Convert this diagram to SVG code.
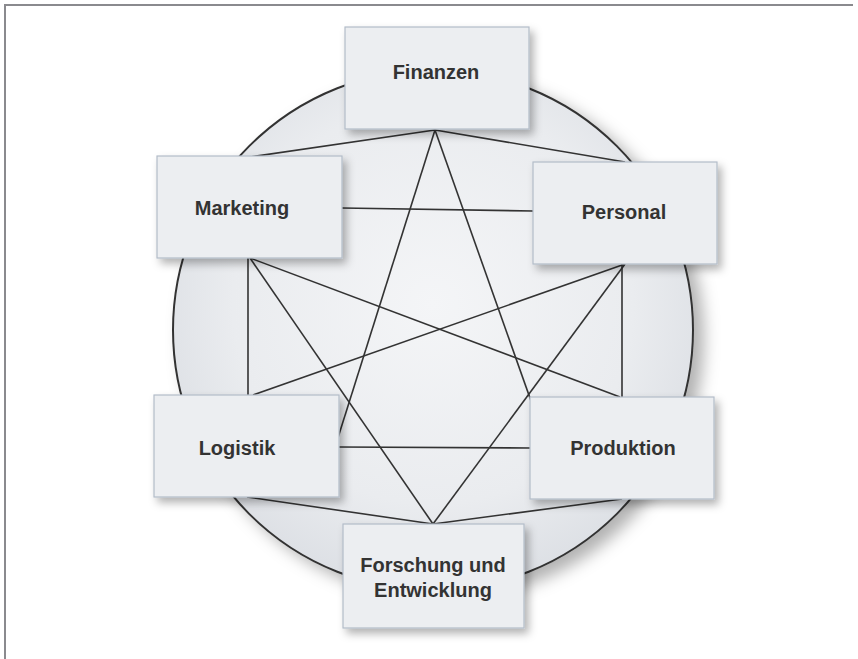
<svg xmlns="http://www.w3.org/2000/svg" width="858" height="659" viewBox="0 0 858 659">
  <defs>
    <radialGradient id="cg" cx="50%" cy="45%" r="55%">
      <stop offset="0" stop-color="#f4f5f7"/>
      <stop offset="0.7" stop-color="#eaecef"/>
      <stop offset="1" stop-color="#dde0e5"/>
    </radialGradient>
    <filter id="sh" x="-20%" y="-20%" width="150%" height="150%">
      <feDropShadow dx="4" dy="5" stdDeviation="4" flood-color="#000" flood-opacity="0.3"/>
    </filter>
    <filter id="csh" x="-20%" y="-20%" width="150%" height="150%">
      <feDropShadow dx="10" dy="8" stdDeviation="8" flood-color="#000" flood-opacity="0.3"/>
    </filter>
  </defs>
  <style>
    .box { fill: #eceef1; stroke: #b3bcc9; stroke-width: 1.2; filter: url(#sh); }
    .lbl { font-family: "Liberation Sans", Arial, sans-serif; font-weight: bold; font-size: 20px; fill: #333333; text-anchor: middle; }
    .con line { stroke: #333333; stroke-width: 1.6; }
  </style>
  <rect width="858" height="659" fill="#ffffff"/>
  <path d="M5,659 V5 H853" fill="none" stroke="#8a8a8e" stroke-width="2"/>

  <circle cx="433" cy="330" r="260" fill="url(#cg)" stroke="#333333" stroke-width="2" filter="url(#csh)"/>

  <g id="connectors" class="con">
    <line x1="435" y1="130" x2="250" y2="157"/>
    <line x1="435" y1="130" x2="625" y2="162"/>
    <line x1="342" y1="208" x2="533" y2="211"/>
    <line x1="248" y1="258" x2="248" y2="395"/>
    <line x1="622" y1="264" x2="622" y2="397"/>
    <line x1="339" y1="447" x2="530" y2="448"/>
    <line x1="247" y1="497" x2="433" y2="524"/>
    <line x1="622" y1="499" x2="433" y2="524"/>
    <line x1="435" y1="130" x2="330" y2="463"/>
    <line x1="435" y1="130" x2="553" y2="463"/>
    <line x1="250" y1="258" x2="620" y2="397"/>
    <line x1="625" y1="264" x2="253" y2="395"/>
    <line x1="250" y1="258" x2="433" y2="524"/>
    <line x1="625" y1="264" x2="433" y2="524"/>
  </g>

  <g id="finanzen">
    <rect class="box" x="345" y="27" width="184" height="102"/>
    <text class="lbl" x="436" y="79">Finanzen</text>
  </g>
  <g id="marketing">
    <rect class="box" x="157" y="156" width="185" height="102"/>
    <text class="lbl" x="242" y="215">Marketing</text>
  </g>
  <g id="personal">
    <rect class="box" x="533" y="162" width="184" height="102"/>
    <text class="lbl" x="624" y="219">Personal</text>
  </g>
  <g id="logistik">
    <rect class="box" x="154" y="395" width="185" height="102"/>
    <text class="lbl" x="237" y="455">Logistik</text>
  </g>
  <g id="produktion">
    <rect class="box" x="530" y="397" width="184" height="102"/>
    <text class="lbl" x="623" y="455">Produktion</text>
  </g>
  <g id="forschung">
    <rect class="box" x="343" y="524" width="181" height="104"/>
    <text class="lbl" x="433" y="572">Forschung und</text>
    <text class="lbl" x="433" y="597">Entwicklung</text>
  </g>
</svg>
